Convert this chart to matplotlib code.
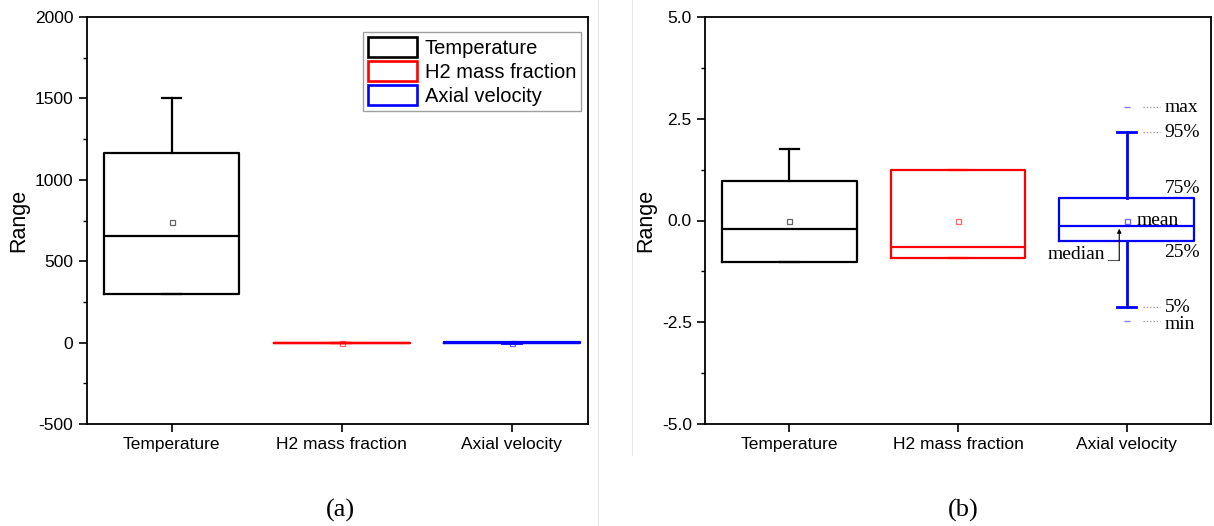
import matplotlib
matplotlib.use("Agg")
import matplotlib.pyplot as plt
from matplotlib.patches import Patch
from matplotlib.lines import Line2D
from matplotlib.ticker import MultipleLocator, FormatStrFormatter

plt.rcParams["font.family"] = ["Liberation Sans", "DejaVu Sans"]
plt.rcParams["axes.unicode_minus"] = False

# --- DATA ---
categories = ["Temperature", "H2 mass fraction", "Axial velocity"]
colors = ["black", "#ff0000", "#0000ff"]

# panel (a): raw ranges
raw_q1 = [299, 0.0, 0.0]
raw_med = [653, 0.01, 0.5]
raw_q3 = [1162, 0.02, 1.0]
raw_whislo = [299, 0.0, 0.0]
raw_whishi = [1500, 0.02, 1.0]
raw_mean = [741, 0.01, 0.5]

# panel (b): standardised
std_q1 = [-1.03, -0.93, -0.50]
std_med = [-0.20, -0.66, -0.14]
std_q3 = [0.97, 1.24, 0.55]
std_whislo = [-1.03, -0.93, -2.13]
std_whishi = [1.75, 1.24, 2.17]
std_mean = [0.0, 0.0, 0.0]
axial_min = -2.47
axial_max = 2.78

W, H = 1214, 526
fig = plt.figure(figsize=(W / 100, H / 100), dpi=100)

# faint panel separators from the original figure
fig.add_artist(Line2D([598 / W, 598 / W], [0, 1], color="#e4e4e4", lw=0.8))
fig.add_artist(Line2D([632 / W, 632 / W], [1 - 455 / H, 1], color="#e8e8e8", lw=0.8))

ax1 = fig.add_axes([86.5 / W, 1 - 424 / H, 501.5 / W, 407 / H])
ax2 = fig.add_axes([705 / W, 1 - 424 / H, 506 / W, 407 / H])


def draw_boxes(ax, q1, med, q3, wlo, whi, mean):
    for i in range(len(categories)):
        stats = [dict(q1=q1[i], med=med[i], q3=q3[i], whislo=wlo[i],
                      whishi=whi[i], mean=mean[i], fliers=[])]
        c = colors[i]
        wl = 2.0 if i == 2 else 1.6
        ax.bxp(stats, positions=[i + 1], widths=0.8, showmeans=True,
               showfliers=False, capwidths=0.11,
               boxprops=dict(color=c, lw=1.6),
               medianprops=dict(color=c, lw=1.6),
               whiskerprops=dict(color=c, lw=wl),
               capprops=dict(color=c, lw=wl),
               meanprops=dict(marker="s", markersize=3.6, markerfacecolor="none",
                              markeredgecolor=c, markeredgewidth=0.9, alpha=0.6))


def style_axes(ax):
    for s in ax.spines.values():
        s.set_linewidth(1.3)
    ax.set_xticks(range(1, 4))
    ax.set_xticklabels(categories, fontsize=12.5)
    ax.tick_params(axis="both", direction="out", length=5.5, width=1.2, labelsize=12.5, pad=4)
    ax.tick_params(axis="y", which="minor", direction="out", length=3, width=1.0)
    ax.tick_params(axis="x", which="minor", bottom=False)
    ax.set_ylabel("Range", fontsize=15.5)


draw_boxes(ax1, raw_q1, raw_med, raw_q3, raw_whislo, raw_whishi, raw_mean)
style_axes(ax1)
ax1.set_xlim(0.5, 3.45)
ax1.set_ylim(-500, 2000)
ax1.yaxis.set_major_locator(MultipleLocator(500))
ax1.yaxis.set_minor_locator(MultipleLocator(250))
ax1.yaxis.set_label_coords(-0.114, 0.5)

handles = [Patch(facecolor="white", edgecolor=c, lw=1.9) for c in colors]
leg = ax1.legend(handles, categories, loc="upper right", bbox_to_anchor=(0.986, 0.963),
                 borderaxespad=0, fontsize=14.5, handlelength=2.4, handleheight=1.15,
                 labelspacing=0.15, handletextpad=0.4, borderpad=0.25, fancybox=False)
leg.get_frame().set_edgecolor("#888888")
leg.get_frame().set_linewidth(1.0)

draw_boxes(ax2, std_q1, std_med, std_q3, std_whislo, std_whishi, std_mean)
style_axes(ax2)
ax2.set_xlim(0.5, 3.5)
ax2.set_ylim(-5, 5)
ax2.yaxis.set_major_locator(MultipleLocator(2.5))
ax2.yaxis.set_minor_locator(MultipleLocator(1.25))
ax2.yaxis.set_major_formatter(FormatStrFormatter("%.1f"))
ax2.yaxis.set_label_coords(-0.097, 0.5)

# axial velocity min / max markers and the box-chart key
ax2.plot([3, 3], [axial_max, axial_min], ls="none", marker="_", markersize=5,
         color="#0000ff", alpha=0.5, markeredgewidth=1.0)
serif = dict(family=["Liberation Serif", "DejaVu Serif"], fontsize=14)
for yv in [axial_max, std_whishi[2], std_whislo[2], axial_min]:
    ax2.plot([3.095, 3.20], [yv, yv], color="#999999", ls=":", lw=0.9)
ax2.text(3.225, axial_max, "max", va="center", ha="left", **serif)
ax2.text(3.225, std_whishi[2], "95%", va="center", ha="left", **serif)
ax2.text(3.225, std_q3[2] + 0.02, "75%", va="bottom", ha="left", **serif)
ax2.text(3.06, std_mean[2], "mean", va="center", ha="left", **serif)
ax2.text(3.225, std_q1[2] - 0.08, "25%", va="top", ha="left", **serif)
ax2.text(3.225, std_whislo[2], "5%", va="center", ha="left", **serif)
ax2.text(3.225, axial_min - 0.08, "min", va="center", ha="left", **serif)
ax2.text(2.87, -0.84, "median", va="center", ha="right", **serif)
ax2.plot([2.89, 2.956], [-0.97, -0.97], color="#555555", lw=0.8)
ax2.annotate("", xy=(2.956, std_med[2] - 0.06), xytext=(2.956, -0.98),
             arrowprops=dict(arrowstyle="-|>", color="black", lw=0.8,
                             mutation_scale=6, shrinkA=0, shrinkB=0))

fig.text(340 / W, 1 - 510 / H, "(a)", ha="center", va="center",
         family=["Liberation Serif", "DejaVu Serif"], fontsize=19)
fig.text(963 / W, 1 - 510 / H, "(b)", ha="center", va="center",
         family=["Liberation Serif", "DejaVu Serif"], fontsize=19)

fig.savefig("out.png", dpi=100)
